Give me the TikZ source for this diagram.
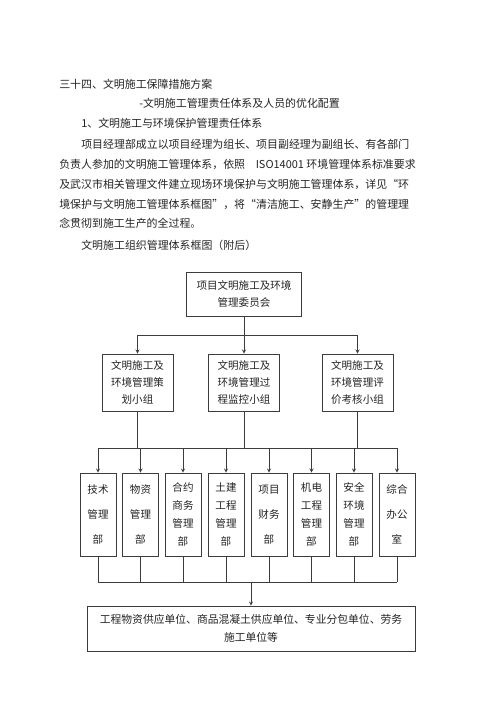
\documentclass[tikz,border=0pt]{standalone}
\usepackage{fontspec}
\setmainfont{Noto Sans CJK SC}
\usepackage{tikz}
\usetikzlibrary{arrows,positioning}
\usepackage{xcolor}
\definecolor{orggray}{RGB}{60,60,60}
\definecolor{txtgray}{RGB}{35,35,35}
\tikzstyle{arrow} = [thin,->,>=stealth,color=orggray]
\tikzstyle{link} = [thin,color=orggray]
\tikzstyle{para} = [anchor=west,inner sep=0pt,text=txtgray,font=\fontsize{8.2}{10}\selectfont]
\tikzstyle{orgbox} = [draw=orggray,line width=0.6pt,align=center,inner sep=0pt,text=txtgray,font=\fontsize{7.9}{12.75}\selectfont]
\tikzstyle{headbox} = [orgbox,minimum width=86.25pt,minimum height=33pt]
\tikzstyle{groupbox} = [orgbox,minimum width=53.25pt,minimum height=42.75pt]
\tikzstyle{deptbox} = [orgbox,minimum width=27pt,minimum height=62.25pt,font=\fontsize{7.9}{13.3}\selectfont]
\tikzstyle{deptwide} = [deptbox,font=\fontsize{7.9}{18.75}\selectfont]
\tikzstyle{unitbox} = [orgbox,minimum width=246pt,minimum height=33.75pt,font=\fontsize{8.1}{13.5}\selectfont]

\begin{document}
\begin{tikzpicture}[x=0.75pt,y=-0.75pt]
\useasboundingbox (0,0) rectangle (500,707);

% Text above the chart
\node[para] (t1) at (59,84) {三十四、文明施工保障措施方案};
\node[para] (t2) at (139,103) {-文明施工管理责任体系及人员的优化配置};
\node[para] (t3) at (81,123) {1、文明施工与环境保护管理责任体系};
\node[para] (t4) at (81,144) {项目经理部成立以项目经理为组长、项目副经理为副组长、有各部门};
\node[para] (t5) at (59,164) {负责人参加的文明施工管理体系，依照\hspace{8pt}ISO14001 环境管理体系标准要求};
\node[para] (t6) at (59,184) {及武汉市相关管理文件建立现场环境保护与文明施工管理体系，详见“环};
\node[para] (t7) at (59,204) {境保护与文明施工管理体系框图”，将“清洁施工、安静生产”的管理理};
\node[para] (t8) at (59,223) {念贯彻到施工生产的全过程。};
\node[para] (t9) at (81,245) {文明施工组织管理体系框图（附后）};

% Committee and groups
\node[headbox] (head) at (244,294) {项目文明施工及环境\\管理委员会};
\node[groupbox] (plan) at (137.5,382.5) {文明施工及\\环境管理策\\划小组};
\node[groupbox] (watch) at (244,382.5) {文明施工及\\环境管理过\\程监控小组};
\node[groupbox] (assess) at (357.5,382.5) {文明施工及\\环境管理评\\价考核小组};

% Departments
\node[deptwide] (d1) at (98,514.5) {技术\\管理\\部};
\node[deptwide] (d2) at (140.5,514.5) {物资\\管理\\部};
\node[deptbox] (d3) at (183,514.5) {合约\\商务\\管理\\部};
\node[deptbox] (d4) at (226,514.5) {土建\\工程\\管理\\部};
\node[deptwide] (d5) at (269,514.5) {项目\\财务\\部};
\node[deptbox] (d6) at (311.5,514.5) {机电\\工程\\管理\\部};
\node[deptbox] (d7) at (354,514.5) {安全\\环境\\管理\\部};
\node[deptwide] (d8) at (397,514.5) {综合\\办公\\室};

\node[unitbox] (units) at (251,628.5) {工程物资供应单位、商品混凝土供应单位、专业分包单位、劳务\\施工单位等};

% Connectors
\coordinate (bus1) at (244,335);
\coordinate (bus2) at (244,448);
\coordinate (bus3) at (251,582);

\draw[link] (head.south) -- (bus1);
\draw[arrow] (bus1) -| (plan.north);
\draw[arrow] (bus1) -- (watch.north);
\draw[arrow] (bus1) -| (assess.north);

\draw[link] (plan.south) -- (plan.south |- bus2);
\draw[link] (watch.south) -- (watch.south |- bus2);
\draw[link] (assess.south) -- (assess.south |- bus2);
\draw[link] (d1.north |- bus2) -- (d8.north |- bus2);
\foreach \d in {d1,d2,d3,d4,d5,d6,d7,d8}
  \draw[arrow] (\d.north |- bus2) -- (\d.north);

\foreach \d in {d1,d2,d3,d4,d5,d6,d7,d8}
  \draw[link] (\d.south) -- (\d.south |- bus3);
\draw[link] (d1.south |- bus3) -- (d8.south |- bus3);
\draw[arrow] (bus3) -- (units.north);
\end{tikzpicture}
\end{document}
